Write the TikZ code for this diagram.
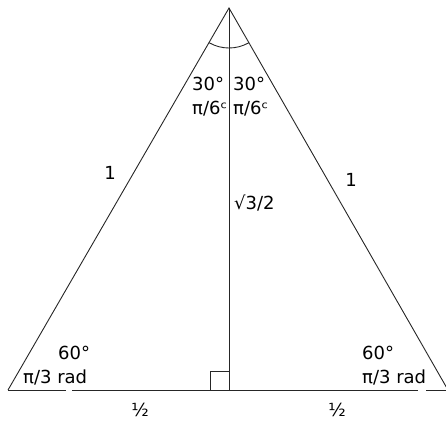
\documentclass[tikz,border=0pt]{standalone}
\usepackage{fontspec}
\setmainfont{DejaVu Sans}
\usepackage{tikz}
\usetikzlibrary{positioning}

\begin{document}
\begin{tikzpicture}[x=1pt,y=-1pt,
    edge/.style={line width=0.9pt,black!85},
    lbl/.style={inner sep=0pt,font=\fontsize{18}{22}\selectfont}
  ]
    \useasboundingbox (0,0) rectangle (446,421);
    \coordinate (apex) at (229,8);
    \coordinate (bl) at (8,390);
    \coordinate (br) at (448,390);
    \coordinate (foot) at (229,390);
    \coordinate (gl1) at (66,390); \coordinate (gl2) at (72,390);
    \coordinate (gr1) at (418,390); \coordinate (gr2) at (426,390);
    \draw[edge] (bl)--(apex)--(br);
    \draw[edge] (apex)--(foot);
    \draw[edge] (bl)--(gl1); \draw[edge] (gl2)--(gr1); \draw[edge] (gr2)--(br);
    \draw[edge] (foot) ++(0,-19) -- ++(-19,0) -- ++(0,19);
    \draw[edge] ([shift={(60:40)}]apex) arc[start angle=60,end angle=120,radius=40];
    % labels
    \node[lbl,anchor=base west] (topL) at (192,90) {30°};
    \node[lbl,anchor=base west] (topLr) at (192,114) {π/6ᶜ};
    \node[lbl,anchor=base west] (topR) at (233,90) {30°};
    \node[lbl,anchor=base west] (topRr) at (233,114) {π/6ᶜ};
    \node[lbl] (sideL) at (110,173) {1};
    \node[lbl] (sideR) at (351,180) {1};
    \node[lbl,anchor=west] (alt) at (234,203) {√3/2};
    \node[lbl,anchor=base west] (botL) at (58,359) {60°};
    \node[lbl,anchor=base west] (botLr) at (23,383) {π/3 rad};
    \node[lbl,anchor=base west] (botR) at (362,359) {60°};
    \node[lbl,anchor=base west] (botRr) at (362,383) {π/3 rad};
    \node[lbl,anchor=base,text depth=0pt] (halfL) at (140,416) {½};
    \node[lbl,anchor=base,text depth=0pt] (halfR) at (337,416) {½};
  \end{tikzpicture}
\end{document}
